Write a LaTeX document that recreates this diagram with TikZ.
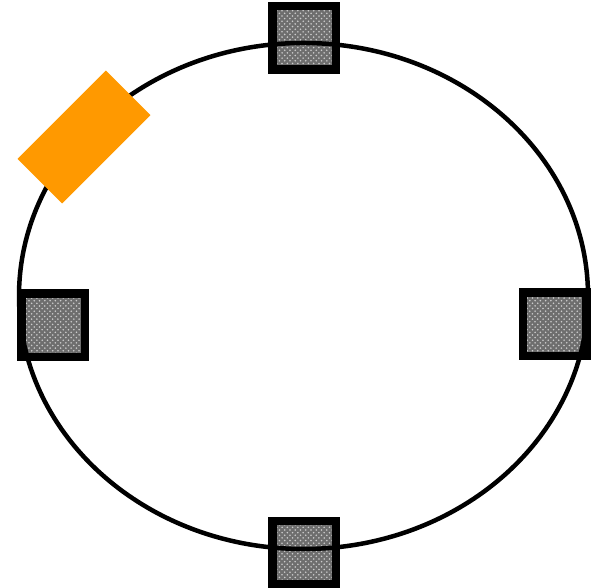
\documentclass[tikz,border=0pt]{standalone}
\usepackage{xcolor}
\usepackage{tikz}
\usetikzlibrary{patterns}
\definecolor{amber}{HTML}{FF9900}
\definecolor{padgray}{HTML}{6E6E6E}
\tikzset{pad/.style={rectangle,draw=black,line width=0.17cm,minimum size=1.27cm,inner sep=0pt,preaction={fill=padgray},preaction={pattern=crosshatch dots,pattern color=white!80!black}}}
\tikzset{tag/.style={rectangle,fill=amber,minimum width=2.5cm,minimum height=1.26cm,inner sep=0pt,rotate=45}}

\begin{document}
\begin{tikzpicture}
\useasboundingbox (0,0) rectangle (11.98,11.76);
\node[pad] (top) at (6.08,11.0) {};
\node[pad] (bottom) at (6.08,0.7) {};
\node[pad] (left) at (1.06,5.25) {};
\node[pad] (right) at (11.09,5.27) {};
\draw[line width=0.09cm] (6.07,5.84) ellipse (5.69 and 5.06);
\node[tag] (badge) at (1.68,9.02) {};
\end{tikzpicture}
\end{document}
